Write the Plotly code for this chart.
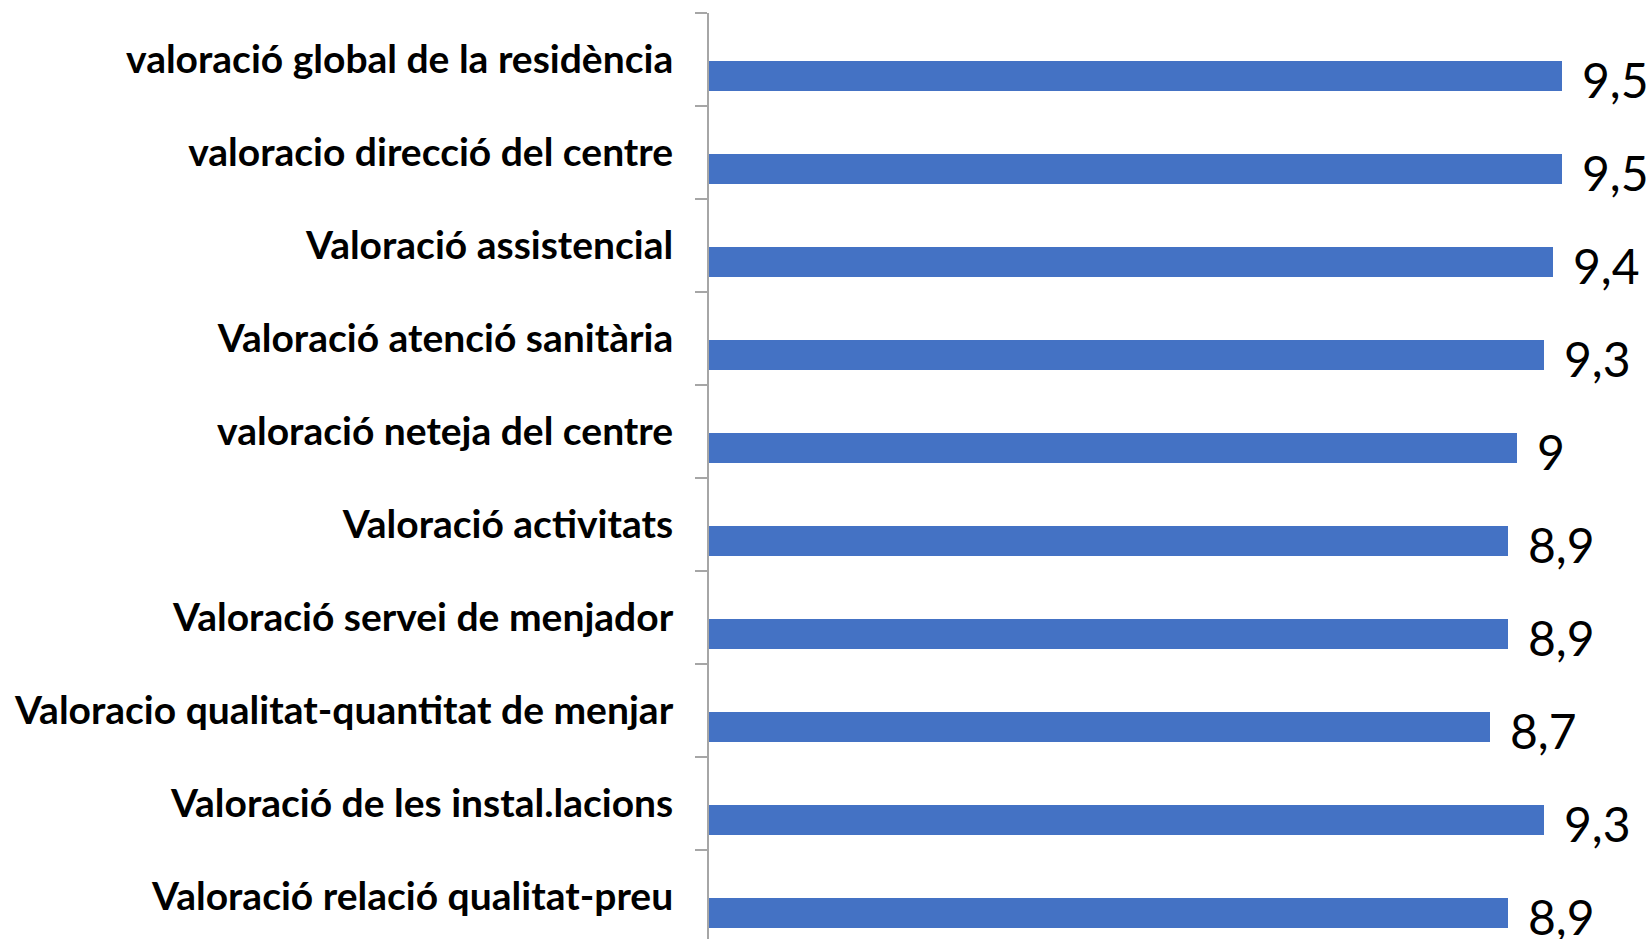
import plotly.graph_objects as go

# --- data
categories = [
    'valoració global de la residència',
    'valoracio direcció del centre',
    'Valoració assistencial',
    'Valoració atenció sanitària',
    'valoració neteja del centre',
    'Valoració activitats',
    'Valoració servei de menjador',
    'Valoracio qualitat-quantitat de menjar',
    'Valoració de les instal.lacions',
    'Valoració relació qualitat-preu',
]
scores = [9.5, 9.5, 9.4, 9.3, 9.0, 8.9, 8.9, 8.7, 9.3, 8.9]
score_labels = ['9,5', '9,5', '9,4', '9,3', '9', '8,9', '8,9', '8,7', '9,3', '8,9']

BLUE = '#4472C4'
AXIS = '#a6a6a6'

fig = go.Figure()
fig.add_trace(go.Bar(
    y=categories, x=scores,
    orientation='h',
    marker=dict(color=BLUE, line=dict(width=0)),
    width=0.323, offset=0.016,
    showlegend=False,
))

# value labels to the right of each bar
for cat, val, lab in zip(categories, scores, score_labels):
    fig.add_annotation(
        x=val, y=cat, xref='x', yref='y',
        text=lab, showarrow=False,
        xanchor='left', yanchor='middle',
        xshift=18, yshift=-20,
        font=dict(family='Lato', size=48, color='black'),
    )

fig.update_layout(
    width=1650, height=939,
    paper_bgcolor='white', plot_bgcolor='white',
    margin=dict(l=709, r=0, t=13, b=0, autoexpand=False),
    bargap=0,
)
fig.update_xaxes(range=[0, 10.485], showgrid=False, zeroline=False,
                 showticklabels=False, ticks='', showline=False)
fig.update_yaxes(
    autorange=False, range=[9.457, -0.5],
    showgrid=False, zeroline=False,
    showline=True, linecolor=AXIS, linewidth=2,
    ticks='outside', tickson='boundaries', ticklen=12, tickcolor=AXIS, tickwidth=2,
    ticklabelstandoff=26,
    tickfont=dict(family='Lato', size=39, color='black', weight='bold'),
)

# page body has a default 8px margin; drop it so the figure fills the window
fig.write_html("out.html", config={'displayModeBar': False},
               post_script="document.body.style.margin='0';")
